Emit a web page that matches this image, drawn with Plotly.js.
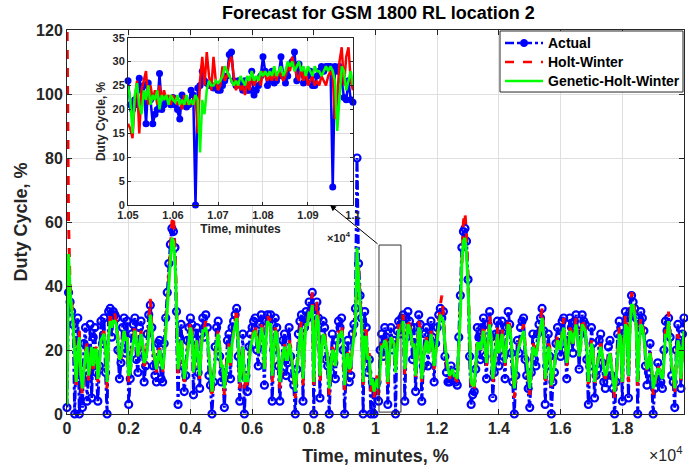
<!DOCTYPE html>
<html>
<head>
<meta charset="utf-8">
<script src="https://cdn.plot.ly/plotly-3.0.1.min.js"></script>
<style>
html,body{margin:0;padding:0;background:#fff;}
#chart{width:688px;height:470px;}
</style>
</head>
<body>
<div id="chart"></div>
<script>
// ---------------- data (main view, one sample every 50 minutes) ----------------
const stepMain = 50;
const actual = [
2,38,35,32,28,0,25,30,0,12,2,22,27,4,12,28,5,24,27,13,
4,15,29,22,30,13,0,32,33,24,32,31,30,20,11,16,27,30,19,29,
3,11,25,28,30,17,13,27,29,19,10,15,25,31,34,27,15,12,10,22,
23,11,10,22,30,38,47,53,58,57,52,32,3,24,28,15,7,12,23,27,
30,28,6,23,27,13,8,25,30,24,31,27,12,9,0,10,21,27,29,18,
10,13,2,12,23,25,11,27,29,31,33,18,4,15,25,0,12,7,21,25,
27,29,30,20,15,28,31,22,9,29,31,29,31,4,20,30,27,15,4,13,
23,25,12,16,27,18,11,9,0,14,25,29,31,4,27,32,30,35,32,38,
0,33,35,30,5,25,29,27,17,15,0,13,25,16,11,23,29,27,30,20,
0,15,23,10,12,25,28,33,80,47,37,30,0,32,27,13,17,0,10,0,
8,10,4,20,25,18,27,24,3,22,27,20,23,0,26,29,25,30,31,4,
24,32,29,27,17,27,7,22,31,28,4,15,25,27,15,22,29,24,10,22,
27,31,33,30,32,18,13,10,10,15,11,13,10,9,24,37,52,57,58,54,
42,18,3,6,7,14,27,24,17,27,30,18,11,28,32,24,5,13,25,29,
15,25,29,18,11,27,32,28,19,10,0,12,23,19,27,29,30,17,12,8,
2,13,25,17,15,25,28,30,33,26,3,15,25,18,0,10,13,22,27,24,
18,29,30,20,11,23,30,27,19,29,31,26,14,25,31,29,28,17,3,15,
27,22,5,12,14,23,25,16,10,8,12,21,23,12,8,0,10,25,29,27,
4,25,32,30,5,32,37,35,33,30,0,28,32,30,26,15,9,13,22,11,
0,8,10,16,12,10,8,20,29,26,30,24,12,10,2,20,28,22,8,25,
30];
const holtWinter = [
125,60,40,34,30,20,8,20,26,10,6,12,20,22,10,15,22,14,20,21,
10,14,24,25,26,20,8,25,32,28,31,31,29,24,16,17,23,27,23,25,
10,12,20,24,28,22,17,22,26,23,15,16,21,27,36,28,20,16,13,18,
21,16,13,18,27,34,44,52,60,62,52,36,12,18,24,19,10,14,19,24,
29,26,12,18,24,18,11,20,27,27,29,25,17,12,5,10,17,23,26,21,
14,15,6,12,19,22,15,22,26,29,33,23,8,15,22,8,12,9,16,22,
24,26,28,24,19,24,28,25,13,24,31,29,30,10,19,27,25,19,8,14,
19,22,17,17,23,21,15,11,5,13,21,26,29,9,21,30,29,33,31,38,
8,26,35,30,10,20,26,25,21,18,6,13,21,19,15,19,26,25,28,23,
7,16,20,13,14,21,25,30,42,46,36,29,8,26,26,17,19,7,11,5,
9,12,6,16,22,21,24,23,8,18,25,23,22,14,22,28,27,29,31,12,
20,30,28,26,21,23,11,18,29,27,10,16,22,24,19,20,26,23,14,19,
24,30,34,37,31,22,16,13,11,13,14,12,11,10,20,33,50,60,63,56,
42,24,8,7,8,15,23,23,20,24,28,21,15,24,31,24,9,14,22,27,
19,22,27,21,15,23,30,28,23,14,5,12,19,22,24,26,28,22,16,11,
6,14,22,21,18,21,25,28,33,26,9,16,22,21,8,11,15,20,25,23,
20,26,30,23,15,19,27,26,22,26,30,25,18,21,30,28,27,21,8,16,
23,21,9,12,16,20,22,19,13,11,13,18,20,15,10,5,10,21,27,25,
9,20,31,29,10,28,38,36,33,29,8,23,30,29,25,19,13,15,20,15,
6,9,12,15,14,12,11,17,27,25,32,23,15,12,6,16,25,21,10,20,
27];
const geneticHW = [
3,50,38,32,28,18,10,20,24,12,8,14,19,21,12,16,21,15,20,20,
11,15,23,24,25,20,10,24,29,27,29,29,28,23,17,18,22,26,23,24,
12,13,19,23,26,22,18,22,25,22,16,17,20,25,31,27,20,17,14,18,
20,16,14,18,26,32,42,50,55,54,48,34,14,18,23,19,11,14,19,23,
27,25,13,18,23,18,12,20,26,26,27,24,18,13,7,11,17,22,25,21,
15,15,8,13,18,21,16,22,25,28,30,23,10,15,21,10,12,10,16,21,
23,25,26,23,19,23,27,24,14,23,29,28,28,12,19,26,25,19,10,14,
19,21,17,17,22,20,15,12,7,13,20,25,27,11,21,28,28,32,30,34,
10,25,31,29,12,20,25,24,21,18,8,14,20,19,15,19,25,24,26,23,
9,16,19,14,15,20,24,28,52,42,34,28,10,24,24,17,18,9,11,7,
9,11,8,15,21,21,23,22,10,18,24,23,22,13,21,26,26,28,29,14,
19,28,27,25,21,22,12,18,27,26,11,16,21,23,19,20,25,22,15,19,
23,28,31,30,29,22,17,14,12,13,14,12,12,11,20,31,48,54,55,50,
40,24,10,9,9,15,22,22,20,23,26,21,16,23,28,24,11,15,21,25,
19,21,25,21,16,22,28,27,23,15,8,13,19,21,23,25,26,21,17,12,
8,14,21,20,18,21,24,27,30,25,11,16,21,20,9,12,15,19,23,22,
20,25,27,23,16,19,26,25,22,25,28,24,18,21,28,27,26,21,10,16,
22,20,10,13,16,19,21,19,14,12,13,17,19,15,11,7,11,20,25,24,
10,20,28,27,12,27,34,34,31,28,10,22,28,27,24,19,14,15,19,15,
8,10,12,14,14,12,11,16,25,24,29,22,15,13,8,16,23,21,11,19,
26];
const minutes = actual.map((_, i) => i * stepMain);

// ---------------- data (inset, one sample every 5 minutes from 10500) ----------------
const insetStart = 10500, insetStep = 5;
const insetActual = [26,21,20,22,21,26.5,24,25,17,25.5,22,17,19,20,27.5,20,21,22,22,21,
22.5,21,20,18,23,21,20.5,21,24,23,0,24.5,25,28,26,25.5,25,25,24.5,25,
24,24,25,26,27,31.5,32,26,25,26,25,24,26,24,24,28,23,24,25,27,
31,28,25,26,28,25.5,26,27,31,27,25.5,27,29.5,30,32,26,29.5,28,25.5,26,
27,28,25,25,27,28,29,28,29,29,29,3.8,29,28,29,26,22.5,22,26,22,21.5];
const insetHoltWinter = [17,16,14,22,26,15,24,26,28,21,25,22,24,21,25,22,24,22,23,21,
23,22,21,22,20,23,21,22,21,22,23,15,26,31,25,32,27,24,31,26,
24,25,29,26,27,30,31,27,24,26,24,25,23,26,24,28,25,26,27,25,
28,27,26,27,26,28,26,28,27,26,27,29,28,31,29,27,26,29,26,28,
25,26,27,25,26,25,27,26,25,27,28,27,18,22,30,33,25,31,33,26,24];
const insetGenetic = [25,22,15,23,25.5,21,19,24,22,25,21,23,22,24,20,23,22,23,21,23,
22,21.5,23,21,22,21,23,21,22,21,23,22,11,22,19,24,26,25,25,26,
25.5,26,27,29,28,27,26,25,26,25,27,26,25,27,26,28,26,27,26,28,
27,28,27,28,27,29,27,28,29,27,28,30,29,30,28,29,30,28,29,27,
29,28,27,29,28,28,27,28,29,28,29,28,26,15.5,22,29,28,24,26,28,25];
const insetMinutes = insetActual.map((_, i) => insetStart + i * insetStep);

// tick labels and legend entries
const mainTickVals = [0,2000,4000,6000,8000,10000,12000,14000,16000,18000,20000];
const mainTickText = ['0','0.2','0.4','0.6','0.8','1','1.2','1.4','1.6','1.8','2'];
const yTickVals = [0,20,40,60,80,100,120];
const insetTickVals = [10500,10600,10700,10800,10900,11000];
const insetTickText = ['1.05','1.06','1.07','1.08','1.09','1.1'];
const insetYTickVals = [0,5,10,15,20,25,30,35];
const seriesNames = ['Actual', 'Holt-Winter', 'Genetic-Holt-Winter'];

// ---------------- styles ----------------
const FONT = 'Liberation Sans, Arial, sans-serif';
const AX = '#262626';
const GRID = '#dfdfdf';
const BLUE = '#0000ff', RED = '#ff0000', GREEN = '#00ff00';
const seriesColors = [BLUE, RED, GREEN];
const seriesDash = ['dashdot', 'dash', 'solid'];

const traces = [
  {x: minutes, y: actual, name: seriesNames[0], type: 'scatter', mode: 'lines+markers', showlegend: false,
   line: {color: BLUE, width: 3, dash: 'dashdot'},
   marker: {symbol: 'circle-open', size: 7, color: BLUE, line: {width: 2.2, color: BLUE}},
   cliponaxis: false, xaxis: 'x', yaxis: 'y'},
  {x: minutes, y: holtWinter, name: seriesNames[1], type: 'scatter', mode: 'lines', showlegend: false,
   line: {color: RED, width: 3, dash: 'dash'}, xaxis: 'x', yaxis: 'y'},
  {x: minutes, y: geneticHW, name: seriesNames[2], type: 'scatter', mode: 'lines', showlegend: false,
   line: {color: GREEN, width: 3}, xaxis: 'x', yaxis: 'y'},
  {x: insetMinutes, y: insetActual, name: seriesNames[0], showlegend: false, type: 'scatter', mode: 'lines+markers',
   line: {color: BLUE, width: 2.5}, marker: {symbol: 'circle', size: 7, color: BLUE},
   cliponaxis: false, xaxis: 'x2', yaxis: 'y2'},
  {x: insetMinutes, y: insetHoltWinter, name: seriesNames[1], showlegend: false, type: 'scatter', mode: 'lines',
   line: {color: RED, width: 2.5}, xaxis: 'x2', yaxis: 'y2'},
  {x: insetMinutes, y: insetGenetic, name: seriesNames[2], showlegend: false, type: 'scatter', mode: 'lines',
   line: {color: GREEN, width: 2.5}, xaxis: 'x2', yaxis: 'y2'}
];

const axBase = {showline: true, linecolor: AX, linewidth: 1, mirror: 'ticks', ticks: 'inside',
  tickcolor: AX, ticklen: 5, showgrid: true, gridcolor: GRID, gridwidth: 1, zeroline: false};

// legend box (paper coordinates, positioned as in the reference)
const legX0 = 0.7018, legX1 = 0.9984, legY0 = 0.8385, legY1 = 0.9974;
const legSampleX0 = 0.7099, legSampleX1 = 0.7715, legTextX = 0.7763;
const legRowY = [0.9661, 0.9167, 0.8672];

const shapes = [
  {type: 'rect', xref: 'x', yref: 'y', x0: 10113, x1: 10826, y0: 0.6, y1: 52.8,
   line: {color: '#333', width: 1}, fillcolor: 'rgba(0,0,0,0)', layer: 'above'},
  {type: 'rect', xref: 'paper', yref: 'paper', x0: legX0, x1: legX1, y0: legY0, y1: legY1,
   line: {color: AX, width: 1}, fillcolor: '#fff', layer: 'above'}
];
const annotations = [
  {xref: 'x', yref: 'y', x: 8525, y: 65.3, ax: 49, ay: 40, text: '', showarrow: true,
   arrowhead: 2, arrowsize: 1.2, arrowwidth: 1, arrowcolor: '#000'},
  {xref: 'paper', yref: 'paper', x: 1.0, y: -0.105, xanchor: 'right', yanchor: 'middle', showarrow: false,
   text: '×10<sup>4</sup>', font: {size: 16, family: FONT, color: AX}},
  {xref: 'paper', yref: 'paper', x: 0.4635, y: 0.462, xanchor: 'right', yanchor: 'middle', showarrow: false,
   text: '<b>×10<sup>4</sup></b>', font: {size: 11, family: FONT, color: AX}}
];
seriesNames.forEach((nm, k) => {
  shapes.push({type: 'line', xref: 'paper', yref: 'paper', x0: legSampleX0, x1: legSampleX1,
    y0: legRowY[k], y1: legRowY[k], line: {color: seriesColors[k], width: 2.5, dash: seriesDash[k]}, layer: 'above'});
  annotations.push({xref: 'paper', yref: 'paper', x: legTextX, y: legRowY[k], xanchor: 'left', yanchor: 'middle',
    showarrow: false, text: '<b>' + nm + '</b>', font: {size: 14, family: FONT, color: '#000'}});
});
// filled marker on the "Actual" legend sample
const mx = (legSampleX0 + legSampleX1) / 2;
shapes.push({type: 'circle', xref: 'paper', yref: 'paper', x0: mx - 0.0058, x1: mx + 0.0058,
  y0: legRowY[0] - 0.0093, y1: legRowY[0] + 0.0093, line: {color: BLUE, width: 1}, fillcolor: BLUE, layer: 'above'});

const layout = {
  width: 688, height: 470,
  margin: {l: 67, r: 4, t: 30, b: 56},
  paper_bgcolor: '#fff', plot_bgcolor: '#fff',
  font: {family: FONT, color: AX},
  showlegend: false,
  title: {text: '<b>Forecast for GSM 1800 RL location 2</b>', font: {size: 18, color: '#000', family: FONT},
    x: 0.550, xanchor: 'center', y: 0.974, yanchor: 'middle', yref: 'container'},
  xaxis: Object.assign({}, axBase, {domain: [0, 1], range: [0, 20000], tickvals: mainTickVals, ticktext: mainTickText,
    tickfont: {size: 16, family: FONT, weight: 'bold', color: AX},
    title: {text: '<b>Time, minutes, %</b>', font: {size: 18, family: FONT, color: AX}, standoff: 13}}),
  yaxis: Object.assign({}, axBase, {domain: [0, 1], range: [0, 120], tickvals: yTickVals,
    tickfont: {size: 16, family: FONT, weight: 'bold', color: AX},
    title: {text: '<b>Duty Cycle, %</b>', font: {size: 18, family: FONT, color: AX}, standoff: 3}}),
  xaxis2: Object.assign({}, axBase, {domain: [0.0989, 0.4635], anchor: 'y2', range: [10500, 11000],
    tickvals: insetTickVals, ticktext: insetTickText, ticklen: 3,
    tickfont: {size: 11, family: FONT, weight: 'bold', color: AX},
    title: {text: '<b>Time, minutes</b>', font: {size: 12, family: FONT, color: AX}, standoff: 4}}),
  yaxis2: Object.assign({}, axBase, {domain: [0.544, 0.980], anchor: 'x2', range: [0, 35],
    tickvals: insetYTickVals, ticklen: 3,
    tickfont: {size: 11, family: FONT, weight: 'bold', color: AX},
    title: {text: '<b>Duty Cycle, %</b>', font: {size: 12, family: FONT, color: AX}, standoff: 4}}),
  shapes: shapes,
  annotations: annotations
};

Plotly.newPlot('chart', traces, layout, {displayModeBar: false, staticPlot: true});
</script>
</body>
</html>
